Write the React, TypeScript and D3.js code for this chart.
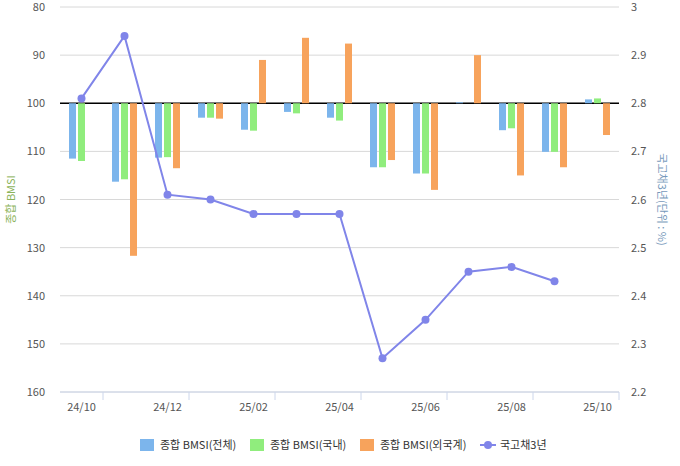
import * as d3 from 'd3';
import React from 'react';

const categories = ['24/10','24/11','24/12','25/01','25/02','25/03','25/04','25/05','25/06','25/07','25/08','25/09','25/10'];
const bmsiTotal = [111.5,116.3,111.3,103,105.5,101.8,103,113.3,114.6,99.8,105.6,110.1,99.2];
const bmsiDomestic = [112,115.8,111.2,103,105.7,102.1,103.6,113.3,114.6,100,105.2,110.1,99];
const bmsiForeign = [100,131.7,113.5,103.2,91,86.4,87.6,111.8,118,90,115,113.3,106.6];
const bond3y: (number | null)[] = [2.81,2.94,2.61,2.60,2.57,2.57,2.57,2.27,2.35,2.45,2.46,2.43,null];
const leftTicks = [80,90,100,110,120,130,140,150,160];
const rightTicks = [2.2,2.3,2.4,2.5,2.6,2.7,2.8,2.9,3];
const seriesNames = ['종합 BMSI(전체)','종합 BMSI(국내)','종합 BMSI(외국계)','국고채3년'];
const colors = ['#7cb5ec','#90ed7d','#f7a35c','#8085e9'];

export default function App() {
  const W = 680, H = 466;
  const left = 60, right = 619, top = 7, bottom = 392;
  const font = 'Malgun Gothic, "Noto Sans CJK KR", sans-serif';
  const x = d3.scaleBand().domain(categories).range([left, right]);
  const yL = d3.scaleLinear().domain([80, 160]).range([top, bottom]);
  const yR = d3.scaleLinear().domain([2.2, 3]).range([bottom, top]);
  const bw = 7, gap = 2;
  const bars = [bmsiTotal, bmsiDomestic, bmsiForeign];
  const line = d3.line<number | null>()
    .defined(d => d != null)
    .x((_, i) => x(categories[i])! + x.bandwidth() / 2)
    .y(d => yR(d as number));
  const legendX = [140, 250, 360, 480];
  return (
    <svg width={W} height={H} style={{ position: 'absolute', left: 0, top: 0, fontFamily: font }}>
      {leftTicks.map(t => (
        <g key={t}>
          <line x1={left} x2={right} y1={yL(t)} y2={yL(t)} stroke="#d8d8d8" />
          <text x={45} y={yL(t) + 4} textAnchor="end" fontSize={11} fill="#555">{t}</text>
        </g>
      ))}
      {rightTicks.map(t => (
        <text key={t} x={631} y={yR(t) + 4} fontSize={11} fill="#555">{d3.format('')(+t.toFixed(1))}</text>
      ))}
      <line x1={left} x2={right} y1={bottom} y2={bottom} stroke="#ccd6eb" />
      {categories.map((c, i) => i % 2 === 1 || i === 12 ? null : null)}
      {d3.range(1, categories.length + 1, 2).map(i => {
        const xx = i < categories.length ? x(categories[i])! + (i === 13 ? 0 : 0) : right;
        return <line key={i} x1={xx - (i < categories.length ? 0 : 0)} x2={xx} y1={bottom} y2={bottom + 8} stroke="#ccd6eb" />;
      })}
      {categories.map((c, i) => i % 2 === 0 ? (
        <text key={c} x={x(c)! + x.bandwidth() / 2} y={411} textAnchor="middle" fontSize={11} fill="#555">{c}</text>
      ) : null)}
      <line x1={left} x2={right} y1={yL(100)} y2={yL(100)} stroke="#000" strokeWidth={1.5} />
      {bars.map((s, k) => s.map((v, i) => {
        const cx = x(categories[i])! + x.bandwidth() / 2 + (k - 1) * (bw + gap) - bw / 2;
        const y0 = yL(Math.min(v, 100)), y1 = yL(Math.max(v, 100));
        return <rect key={k + '-' + i} x={cx} y={y0} width={bw} height={Math.max(y1 - y0, 0)} fill={colors[k]} />;
      }))}
      <path d={line(bond3y) || ''} fill="none" stroke={colors[3]} strokeWidth={2} />
      {bond3y.map((v, i) => v == null ? null : (
        <circle key={i} cx={x(categories[i])! + x.bandwidth() / 2} cy={yR(v)} r={4} fill={colors[3]} />
      ))}
      <text transform={`translate(15,${yL(120)}) rotate(-90)`} textAnchor="middle" fontSize={11} fill="#8bb35a">종합 BMSI</text>
      <text transform={`translate(658,${yR(2.6)}) rotate(90)`} textAnchor="middle" fontSize={11} fill="#7799bb">국고채3년(단위 : %)</text>
      {seriesNames.map((n, k) => (
        <g key={n} transform={`translate(${legendX[k]},446)`}>
          {k < 3 ? <rect x={0} y={-7} width={14} height={12} fill={colors[k]} />
            : <g><line x1={0} x2={16} y1={-1} y2={-1} stroke={colors[3]} strokeWidth={2} /><circle cx={8} cy={-1} r={4} fill={colors[3]} /></g>}
          <text x={20} y={3} fontSize={11} fill="#333">{n}</text>
        </g>
      ))}
    </svg>
  );
}
